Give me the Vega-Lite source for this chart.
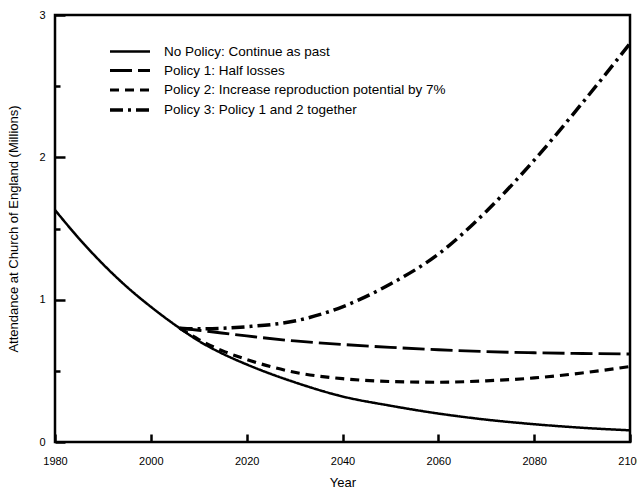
{
  "$schema": "https://vega.github.io/schema/vega-lite/v6.json",
  "width": 575,
  "height": 427,
  "autosize": {"type": "none"},
  "padding": {"left": 55, "top": 15, "right": 7, "bottom": 48},
  "config": {
    "view": {"stroke": "black", "strokeWidth": 2.5},
    "font": "Liberation Sans",
    "axis": {"labelFont": "Liberation Sans", "titleFont": "Liberation Sans", "labelColor": "black", "titleColor": "black", "titleFontWeight": "normal", "domain": false, "grid": false, "tickColor": "black", "tickWidth": 2.5, "zindex": 1, "labelFlush": false}
  },
  "data": {"values": [
    {"policy": "No Policy: Continue as past", "year": 1980, "value": 1.63},
    {"policy": "No Policy: Continue as past", "year": 1985, "value": 1.43},
    {"policy": "No Policy: Continue as past", "year": 1990, "value": 1.25},
    {"policy": "No Policy: Continue as past", "year": 1995, "value": 1.09},
    {"policy": "No Policy: Continue as past", "year": 2000, "value": 0.95},
    {"policy": "No Policy: Continue as past", "year": 2006, "value": 0.80},
    {"policy": "No Policy: Continue as past", "year": 2010, "value": 0.71},
    {"policy": "No Policy: Continue as past", "year": 2015, "value": 0.62},
    {"policy": "No Policy: Continue as past", "year": 2020, "value": 0.545},
    {"policy": "No Policy: Continue as past", "year": 2030, "value": 0.42},
    {"policy": "No Policy: Continue as past", "year": 2040, "value": 0.32},
    {"policy": "No Policy: Continue as past", "year": 2050, "value": 0.255},
    {"policy": "No Policy: Continue as past", "year": 2060, "value": 0.20},
    {"policy": "No Policy: Continue as past", "year": 2070, "value": 0.157},
    {"policy": "No Policy: Continue as past", "year": 2080, "value": 0.125},
    {"policy": "No Policy: Continue as past", "year": 2090, "value": 0.10},
    {"policy": "No Policy: Continue as past", "year": 2100, "value": 0.082},
    {"policy": "Policy 1: Half losses", "year": 2006, "value": 0.80},
    {"policy": "Policy 1: Half losses", "year": 2010, "value": 0.785},
    {"policy": "Policy 1: Half losses", "year": 2020, "value": 0.745},
    {"policy": "Policy 1: Half losses", "year": 2030, "value": 0.71},
    {"policy": "Policy 1: Half losses", "year": 2040, "value": 0.685},
    {"policy": "Policy 1: Half losses", "year": 2050, "value": 0.665},
    {"policy": "Policy 1: Half losses", "year": 2060, "value": 0.648},
    {"policy": "Policy 1: Half losses", "year": 2070, "value": 0.635},
    {"policy": "Policy 1: Half losses", "year": 2080, "value": 0.627},
    {"policy": "Policy 1: Half losses", "year": 2090, "value": 0.622},
    {"policy": "Policy 1: Half losses", "year": 2100, "value": 0.618},
    {"policy": "Policy 2: Increase reproduction potential by 7%", "year": 2006, "value": 0.80},
    {"policy": "Policy 2: Increase reproduction potential by 7%", "year": 2010, "value": 0.72},
    {"policy": "Policy 2: Increase reproduction potential by 7%", "year": 2015, "value": 0.64},
    {"policy": "Policy 2: Increase reproduction potential by 7%", "year": 2020, "value": 0.58},
    {"policy": "Policy 2: Increase reproduction potential by 7%", "year": 2030, "value": 0.49},
    {"policy": "Policy 2: Increase reproduction potential by 7%", "year": 2040, "value": 0.445},
    {"policy": "Policy 2: Increase reproduction potential by 7%", "year": 2050, "value": 0.425},
    {"policy": "Policy 2: Increase reproduction potential by 7%", "year": 2060, "value": 0.42},
    {"policy": "Policy 2: Increase reproduction potential by 7%", "year": 2070, "value": 0.43},
    {"policy": "Policy 2: Increase reproduction potential by 7%", "year": 2080, "value": 0.45},
    {"policy": "Policy 2: Increase reproduction potential by 7%", "year": 2090, "value": 0.485},
    {"policy": "Policy 2: Increase reproduction potential by 7%", "year": 2100, "value": 0.53},
    {"policy": "Policy 3: Policy 1 and 2 together", "year": 2006, "value": 0.80},
    {"policy": "Policy 3: Policy 1 and 2 together", "year": 2010, "value": 0.795},
    {"policy": "Policy 3: Policy 1 and 2 together", "year": 2020, "value": 0.81},
    {"policy": "Policy 3: Policy 1 and 2 together", "year": 2030, "value": 0.85},
    {"policy": "Policy 3: Policy 1 and 2 together", "year": 2040, "value": 0.95},
    {"policy": "Policy 3: Policy 1 and 2 together", "year": 2050, "value": 1.11},
    {"policy": "Policy 3: Policy 1 and 2 together", "year": 2060, "value": 1.32},
    {"policy": "Policy 3: Policy 1 and 2 together", "year": 2070, "value": 1.62},
    {"policy": "Policy 3: Policy 1 and 2 together", "year": 2080, "value": 1.98},
    {"policy": "Policy 3: Policy 1 and 2 together", "year": 2090, "value": 2.38},
    {"policy": "Policy 3: Policy 1 and 2 together", "year": 2100, "value": 2.80}
  ]},
  "mark": {"type": "line", "interpolate": "monotone", "color": "black", "clip": true},
  "encoding": {
    "x": {
      "field": "year", "type": "quantitative", "title": "Year",
      "scale": {"domain": [1980, 2100], "nice": false, "zero": false},
      "axis": {"values": [1980, 2000, 2020, 2040, 2060, 2080, 2100], "format": "d", "tickSize": -8, "labelPadding": 21, "labelFontSize": 11, "titleFontSize": 13, "titlePadding": 10}
    },
    "y": {
      "field": "value", "type": "quantitative", "title": "Attendance at Church of England (Millions)",
      "scale": {"domain": [0, 3], "nice": false},
      "axis": {"values": [0, 0.5, 1, 1.5, 2, 2.5, 3], "labelExpr": "datum.value % 1 === 0 ? format(datum.value, 'd') : ''", "tickSize": {"condition": {"test": "datum.value % 1 !== 0", "value": -5}, "value": -10}, "labelPadding": 20, "labelFontSize": 11, "titleFontSize": 13, "titlePadding": 18}
    },
    "strokeDash": {
      "field": "policy", "type": "nominal",
      "scale": {
        "domain": ["No Policy: Continue as past", "Policy 1: Half losses", "Policy 2: Increase reproduction potential by 7%", "Policy 3: Policy 1 and 2 together"],
        "range": [[1, 0], [22, 6], [9, 6], [13, 5, 3, 5]]
      },
      "legend": {"orient": "none", "legendX": 65, "legendY": 27, "title": null, "symbolType": "M-2.5,0H2.5", "symbolSize": 256, "symbolStrokeWidth": 4, "symbolStrokeColor": "black", "labelFontSize": 13.5, "labelFont": "Liberation Sans", "labelColor": "black", "labelOffset": 24, "rowPadding": 3, "labelLimit": 400}
    },
    "strokeWidth": {
      "field": "policy", "type": "nominal",
      "scale": {
        "domain": ["No Policy: Continue as past", "Policy 1: Half losses", "Policy 2: Increase reproduction potential by 7%", "Policy 3: Policy 1 and 2 together"],
        "range": [2.5, 3.5, 3.5, 3.5]
      },
      "legend": null
    }
  }
}
